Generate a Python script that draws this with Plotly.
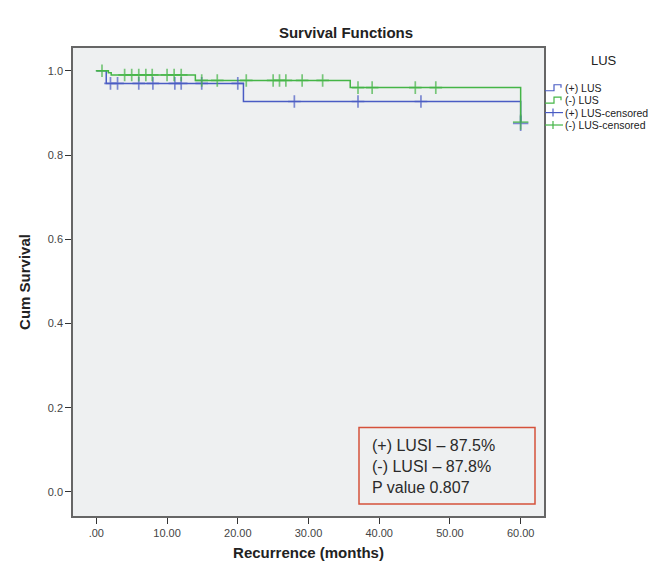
import plotly.graph_objects as go
import numpy as np

# ---- data ----
pos_times = [0, 1.4, 20.8, 60]
pos_surv = [1.0, 0.970, 0.927, 0.875]
pos_censored = [2.0, 3.0, 6.0, 8.0, 11.1, 12.0, 14.9, 20.0, 28.0, 37.0, 45.9, 60]

neg_times = [0, 1.7, 2.1, 14.0, 35.9, 60]
neg_surv = [1.0, 0.995, 0.990, 0.977, 0.960, 0.878]
neg_censored = [0.8, 4.0, 5.0, 6.0, 7.0, 7.9, 10.0, 11.0, 12.0, 14.9, 17.1, 21.2,
                25.0, 25.9, 26.8, 29.1, 32.0, 37.0, 39.0, 45.1, 48.0, 60]

x_tick_vals = [0, 10, 20, 30, 40, 50, 60]
x_tick_text = [".00", "10.00", "20.00", "30.00", "40.00", "50.00", "60.00"]
y_tick_vals = [0.0, 0.2, 0.4, 0.6, 0.8, 1.0]
y_tick_text = ["0.0", "0.2", "0.4", "0.6", "0.8", "1.0"]

legend_labels = ["(+) LUS", "(-) LUS", "(+) LUS-censored", "(-) LUS-censored"]
box_lines = ["(+) LUSI – 87.5%", "(-) LUSI – 87.8%", "P value 0.807"]

BLUE = "#4a5cc4"
GREEN = "#45b547"
FONT = "Liberation Sans, Arial, sans-serif"


def surv_at(times, surv, t):
    idx = np.searchsorted(np.array(times), t, side="right") - 1
    return surv[idx]


def marker_sizes(ts, last):
    return [11 if t >= last else 9 for t in ts]


fig = go.Figure()
fig.add_trace(go.Scatter(x=pos_times, y=pos_surv, mode="lines", line_shape="hv",
                         line=dict(color=BLUE, width=1.5), showlegend=False))
fig.add_trace(go.Scatter(x=neg_times, y=neg_surv, mode="lines", line_shape="hv",
                         line=dict(color=GREEN, width=1.5), showlegend=False))
fig.add_trace(go.Scatter(x=pos_censored, y=[surv_at(pos_times, pos_surv, t) for t in pos_censored],
                         mode="markers",
                         marker=dict(symbol="cross-thin", size=marker_sizes(pos_censored, pos_times[-1]),
                                     line=dict(color=BLUE, width=1.7)),
                         showlegend=False))
fig.add_trace(go.Scatter(x=neg_censored, y=[surv_at(neg_times, neg_surv, t) for t in neg_censored],
                         mode="markers",
                         marker=dict(symbol="cross-thin", size=marker_sizes(neg_censored, neg_times[-1]),
                                     line=dict(color=GREEN, width=1.7)),
                         showlegend=False))

# plot area in pixels
L, R, T, B = 65, 536, 40, 511
W, H = 664, 563
pw, ph = R - L, B - T


def px(x):
    return (x - L) / pw


def py(y):
    return (B - y) / ph


shapes = []
annotations = []

# manual legend
annotations.append(dict(x=px(596), y=py(53), xref="paper", yref="paper", text="LUS",
                        showarrow=False, font=dict(size=13, color="#222", family=FONT),
                        xanchor="center", yanchor="middle"))
leg_y = [80, 92.5, 105, 117.5]
leg_col = [BLUE, GREEN, BLUE, GREEN]
for i, (lab, yy, col) in enumerate(zip(legend_labels, leg_y, leg_col)):
    if i < 2:
        path = (f"M {px(537)} {py(yy + 3)} L {px(546)} {py(yy + 3)} L {px(546)} {py(yy - 3)} "
                f"L {px(553)} {py(yy - 3)} L {px(553)} {py(yy)}")
        shapes.append(dict(type="path", xref="paper", yref="paper", path=path,
                           line=dict(color=col, width=1.2)))
    else:
        shapes.append(dict(type="line", xref="paper", yref="paper", x0=px(537), x1=px(555),
                           y0=py(yy), y1=py(yy), line=dict(color=col, width=1.2)))
        shapes.append(dict(type="line", xref="paper", yref="paper", x0=px(545), x1=px(545),
                           y0=py(yy - 4), y1=py(yy + 4), line=dict(color=col, width=1.2)))
    annotations.append(dict(x=px(555), y=py(yy), xref="paper", yref="paper", text=lab,
                            showarrow=False, font=dict(size=10.5, color="#222", family=FONT),
                            xanchor="left", yanchor="middle"))

# text box
shapes.append(dict(type="rect", xref="paper", yref="paper", x0=px(351), x1=px(527),
                   y0=py(499), y1=py(422), line=dict(color="#d5513b", width=1.5),
                   fillcolor="rgba(0,0,0,0)"))
for line, yy in zip(box_lines, [440, 461, 482]):
    annotations.append(dict(x=px(362), y=py(yy), xref="paper", yref="paper", text=line,
                            showarrow=False, font=dict(size=16, color="#2a2a2a", family=FONT),
                            xanchor="left", yanchor="middle"))

fig.update_layout(
    width=W, height=H,
    margin=dict(l=L, r=W - R, t=T, b=H - B),
    paper_bgcolor="white",
    plot_bgcolor="#eef0f1",
    title=dict(text="<b>Survival Functions</b>", x=338 / W, xanchor="center",
               y=1 - 25 / H, yanchor="middle",
               font=dict(size=15, color="#222", family=FONT)),
    shapes=shapes,
    annotations=annotations,
    showlegend=False,
    font=dict(family=FONT),
)
fig.update_xaxes(range=[-3.3, 63.3], tickvals=x_tick_vals, ticktext=x_tick_text,
                 ticks="outside", ticklen=6, tickcolor="#333", tickwidth=1.2,
                 showgrid=False, zeroline=False, showline=True, linecolor="#666",
                 linewidth=1.5, mirror=True,
                 tickfont=dict(size=11, color="#444", family=FONT),
                 title=dict(text="<b>Recurrence (months)</b>", standoff=10,
                            font=dict(size=15, color="#222", family=FONT)))
fig.update_yaxes(range=[-0.057, 1.054], tickvals=y_tick_vals, ticktext=y_tick_text,
                 ticks="outside", ticklen=6, tickcolor="#333", tickwidth=1.2,
                 showgrid=False, zeroline=False, showline=True, linecolor="#666",
                 linewidth=1.5, mirror=True,
                 tickfont=dict(size=11, color="#444", family=FONT),
                 title=dict(text="<b>Cum Survival</b>", standoff=14,
                            font=dict(size=15, color="#222", family=FONT)))

fig.write_html("out.html")
